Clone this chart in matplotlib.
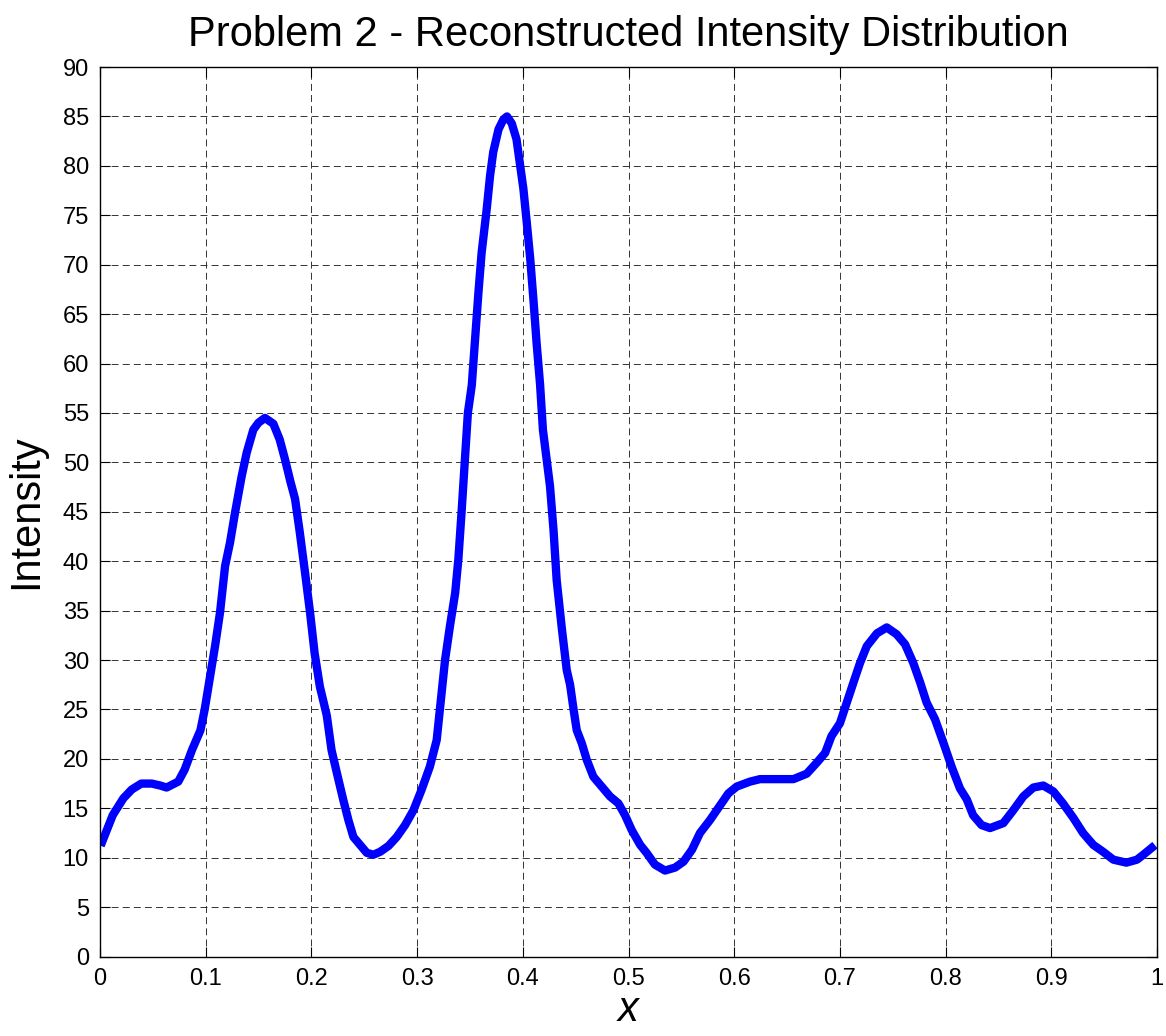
import numpy as np
import matplotlib
matplotlib.use("Agg")
import matplotlib.pyplot as plt

plt.rcParams['font.family'] = ['Liberation Sans', 'DejaVu Sans']
plt.rcParams['lines.scale_dashes'] = False

# values
x = [0.002, 0.012, 0.022, 0.030, 0.039, 0.049, 0.057, 0.063, 0.074, 0.080,
     0.087, 0.095, 0.099, 0.1025, 0.1088, 0.1135, 0.1183, 0.123, 0.1277, 0.134,
     0.1388, 0.145, 0.1498, 0.156, 0.164, 0.170, 0.175, 0.180, 0.1845, 0.189,
     0.194, 0.1987, 0.203, 0.208, 0.2145, 0.219, 0.224, 0.230, 0.235, 0.2397,
     0.246, 0.2523, 0.2586, 0.265, 0.273, 0.2807, 0.2886, 0.2965, 0.3043, 0.312,
     0.3185, 0.322, 0.3264, 0.331, 0.336, 0.339, 0.342, 0.345, 0.348, 0.3517,
     0.3548, 0.358, 0.361, 0.3658, 0.369, 0.372, 0.377, 0.3816, 0.385, 0.3895,
     0.394, 0.397, 0.4005, 0.4037, 0.407, 0.410, 0.413, 0.4163, 0.419, 0.4257,
     0.429, 0.432, 0.437, 0.4415, 0.4447, 0.448, 0.451, 0.4557, 0.4605, 0.4667,
     0.4746, 0.4825, 0.4904, 0.4967, 0.503, 0.511, 0.517, 0.525, 0.5345, 0.544,
     0.552, 0.560, 0.5676, 0.577, 0.5866, 0.5944, 0.6024, 0.615, 0.6244, 0.656,
     0.6686, 0.678, 0.686, 0.692, 0.700, 0.7065, 0.7127, 0.719, 0.7254, 0.735,
     0.7443, 0.7537, 0.7616, 0.7694, 0.776, 0.782, 0.790, 0.798, 0.8057, 0.8136,
     0.820, 0.826, 0.834, 0.842, 0.8546, 0.864, 0.8735, 0.883, 0.8924, 0.902,
     0.911, 0.921, 0.930, 0.9397, 0.949, 0.9587, 0.971, 0.981, 0.987, 0.995]
intensity = [11.6, 14.3, 16.0, 16.9, 17.5, 17.5, 17.3, 17.1, 17.7, 18.9,
             20.9, 22.9, 25.0, 27.3, 31.4, 34.8, 39.5, 41.9, 44.9, 48.6,
             51.0, 53.3, 54.0, 54.5, 53.9, 52.3, 50.3, 48.1, 46.3, 42.9,
             38.8, 34.8, 30.7, 27.3, 24.4, 20.9, 18.6, 15.9, 13.8, 12.1,
             11.3, 10.5, 10.3, 10.6, 11.2, 12.1, 13.3, 14.8, 16.9, 19.2,
             21.9, 25.5, 30.0, 33.4, 36.8, 40.2, 44.9, 50.0, 55.0, 57.8,
             62.5, 67.2, 71.2, 75.6, 79.0, 81.4, 83.7, 84.7, 85.0, 84.3,
             82.7, 80.4, 77.7, 74.3, 70.6, 66.5, 62.1, 57.9, 53.3, 47.6,
             43.2, 38.1, 33.1, 29.0, 27.5, 25.0, 22.9, 21.6, 19.9, 18.2,
             17.2, 16.2, 15.5, 14.3, 12.8, 11.3, 10.5, 9.3, 8.7, 9.0,
             9.6, 10.8, 12.5, 13.8, 15.3, 16.5, 17.2, 17.7, 17.95, 17.95,
             18.5, 19.6, 20.6, 22.3, 23.6, 25.7, 27.7, 29.7, 31.4, 32.7,
             33.3, 32.6, 31.6, 29.7, 27.7, 25.7, 24.0, 21.6, 19.2, 17.0,
             15.9, 14.3, 13.3, 13.0, 13.5, 14.8, 16.2, 17.1, 17.3, 16.7,
             15.5, 14.0, 12.5, 11.3, 10.6, 9.8, 9.5, 9.8, 10.3, 11.0]

xticks = np.arange(0, 1.01, 0.1)
yticks = np.arange(0, 91, 5)
xticklabels = ['0', '0.1', '0.2', '0.3', '0.4', '0.5', '0.6', '0.7', '0.8', '0.9', '1']

fig = plt.figure(figsize=(11.66, 10.36), dpi=100)
ax = fig.add_axes([0.0858, 0.0767, 0.9065, 0.8586])

ax.plot(x, intensity, color='#0000ff', linewidth=6, solid_joinstyle='round')

ax.set_xlim(0, 1)
ax.set_ylim(0, 90)
ax.set_xticks(xticks)
ax.set_xticklabels(xticklabels)
ax.set_yticks(yticks)
ax.tick_params(direction='in', length=7, width=0.8, labelsize=17,
               top=True, right=True, pad=8)
ax.grid(True, color='#333333', linestyle=(0, (5, 3)), linewidth=0.7)
for s in ax.spines.values():
    s.set_linewidth(1.0)

ax.set_title('Problem 2 - Reconstructed Intensity Distribution', fontsize=30, pad=15)
ax.set_xlabel('x', fontsize=30, style='italic', labelpad=0)
ax.set_ylabel('Intensity', fontsize=30, labelpad=12)

fig.savefig('out.png', dpi=100)
